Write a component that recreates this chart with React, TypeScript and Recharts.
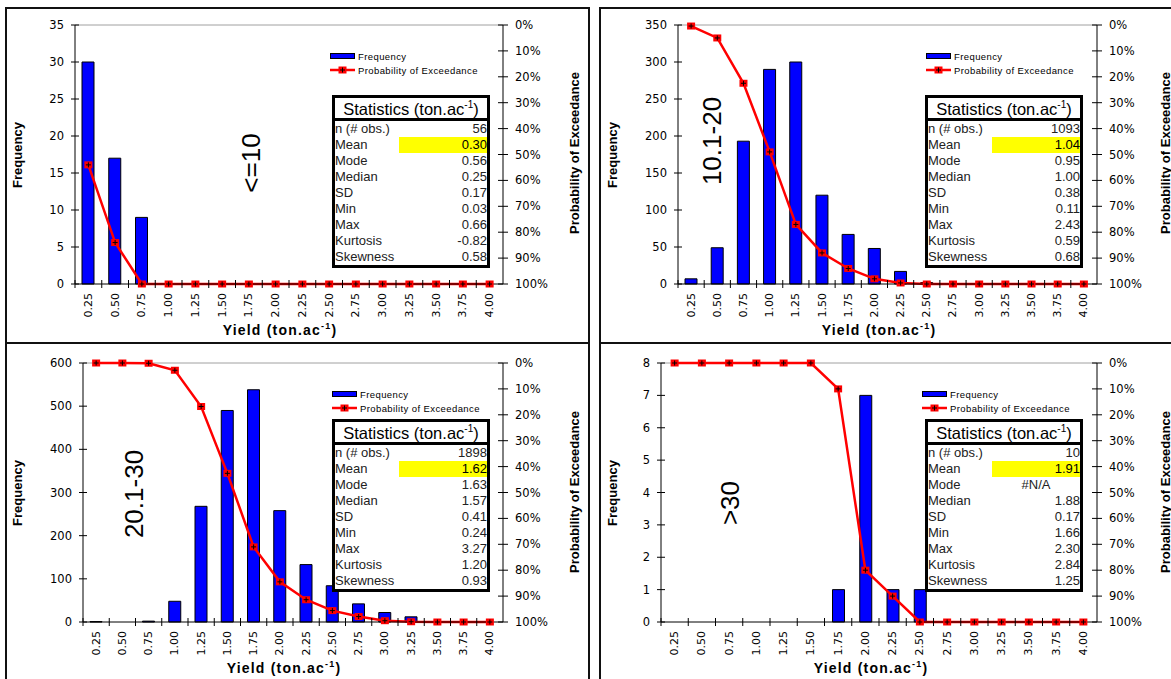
import React from 'react';
import { ComposedChart, Bar, Line, XAxis, YAxis, ReferenceLine } from 'recharts';

// yield classes on the x axis (ton.ac-1)
const yieldBins = ['0.25', '0.50', '0.75', '1.00', '1.25', '1.50', '1.75', '2.00', '2.25', '2.50', '2.75', '3.00', '3.25', '3.50', '3.75', '4.00'];

// frequency per yield class, one list per rainfall group
const freqLe10 = [30, 17, 9, 0, 0, 0, 0, 0, 0, 0, 0, 0, 0, 0, 0, 0];
const freq10to20 = [7, 49, 193, 290, 300, 120, 67, 48, 17, 2, 0, 0, 0, 0, 0, 0];
const freq20to30 = [1, 0, 2, 48, 268, 490, 538, 258, 133, 84, 42, 22, 12, 0, 0, 0];
const freqGt30 = [0, 0, 0, 0, 0, 0, 1, 7, 1, 1, 0, 0, 0, 0, 0, 0];

// probability of exceedance (%), drawn on the reversed right axis
const exceedLe10 = [54, 84, 100, 100, 100, 100, 100, 100, 100, 100, 100, 100, 100, 100, 100, 100];
const exceed10to20 = [0.4, 5, 22.5, 49, 77, 88, 94, 98, 99.6, 100, 100, 100, 100, 100, 100, 100];
const exceed20to30 = [0, 0, 0.1, 2.8, 16.8, 42.6, 71, 84.5, 91.4, 95.6, 97.9, 99.5, 99.9, 100, 100, 100];
const exceedGt30 = [0, 0, 0, 0, 0, 0, 10, 80, 90, 100, 100, 100, 100, 100, 100, 100];

const freqTicksLe10 = [0, 5, 10, 15, 20, 25, 30, 35];
const freqTicks10to20 = [0, 50, 100, 150, 200, 250, 300, 350];
const freqTicks20to30 = [0, 100, 200, 300, 400, 500, 600];
const freqTicksGt30 = [0, 1, 2, 3, 4, 5, 6, 7, 8];
const exceedTicks = [0, 10, 20, 30, 40, 50, 60, 70, 80, 90, 100];

const statLabels = ['n (# obs.)', 'Mean', 'Mode', 'Median', 'SD', 'Min', 'Max', 'Kurtosis', 'Skewness'];
const statsLe10 = ['56', '0.30', '0.56', '0.25', '0.17', '0.03', '0.66', '-0.82', '0.58'];
const stats10to20 = ['1093', '1.04', '0.95', '1.00', '0.38', '0.11', '2.43', '0.59', '0.68'];
const stats20to30 = ['1898', '1.62', '1.63', '1.57', '0.41', '0.24', '3.27', '1.20', '0.93'];
const statsGt30 = ['10', '1.91', '#N/A', '1.88', '0.17', '1.66', '2.30', '2.84', '1.25'];

const groupLabels = ['<=10', '10.1-20', '20.1-30', '>30'];

const SANS = '"Liberation Sans", Arial, sans-serif';
const TICK_FONT = '"DejaVu Sans", sans-serif';
const BLUE = '#0000FF';
const RED = '#FF0000';

interface Geo {
  x: number; y: number; w: number; h: number;
  pl: number; pr: number; pt: number; pb: number;
  frame: [number, number, number, number];
  freqTitle: [number, number];
  probTitle: [number, number];
  yieldTitle: [number, number];
  tag: [number, number];
  legend: [number, number];
  box: [number, number];
}

const SquareDot = (props: any) => {
  const { cx, cy } = props;
  if (cx == null || cy == null) return null;
  return (
    <g>
      <rect x={cx - 4} y={cy - 3.5} width={8} height={7} fill={RED} />
      <path d={`M${cx - 2.5},${cy}H${cx + 2.5}M${cx},${cy - 2.5}V${cy + 2.5}`} stroke="#000" strokeWidth={1} />
    </g>
  );
};

const BinTick = (props: any) => {
  const { x, y, payload, band } = props;
  const bx = x - band / 2;
  return (
    <g>
      <line x1={bx} x2={bx} y1={y - 4} y2={y + 4} stroke="#000" />
      <text
        x={x}
        y={y + 9}
        transform={`rotate(-90, ${x}, ${y + 9})`}
        textAnchor="end"
        dominantBaseline="central"
        fontSize={11}
        fontFamily={TICK_FONT}
        fill="#000"
      >
        {payload.value}
      </text>
    </g>
  );
};

const FreqTick = (props: any) => {
  const { x, y, payload } = props;
  return (
    <g>
      <line x1={x - 4} x2={x + 4} y1={y} y2={y} stroke="#000" />
      <text x={x - 11} y={y} textAnchor="end" dominantBaseline="central" fontSize={11.5} fontFamily={TICK_FONT} fill="#000">
        {payload.value}
      </text>
    </g>
  );
};

const ExceedTick = (props: any) => {
  const { x, y, payload } = props;
  return (
    <g>
      <line x1={x - 5} x2={x + 5} y1={y} y2={y} stroke="#000" />
      <text x={x + 12} y={y} textAnchor="start" dominantBaseline="central" fontSize={11.5} fontFamily={TICK_FONT} fill="#000">
        {payload.value}%
      </text>
    </g>
  );
};

function LegendBox({ left, top }: { left: number; top: number }) {
  const row: React.CSSProperties = { display: 'flex', alignItems: 'center', height: 14, whiteSpace: 'nowrap' };
  return (
    <div style={{ position: 'absolute', left, top, fontFamily: SANS, fontSize: 9.5, letterSpacing: 0.4, color: '#000' }}>
      <div style={row}>
        <svg width={28} height={10}>
          <rect x={0.5} y={2.5} width={24} height={5} fill={BLUE} stroke="#000" strokeWidth={1} />
        </svg>
        <span>Frequency</span>
      </div>
      <div style={row}>
        <svg width={28} height={10}>
          <line x1={0} x2={25} y1={5} y2={5} stroke={RED} strokeWidth={2.5} />
          <SquareDot cx={12.5} cy={5} />
        </svg>
        <span>Probability of Exceedance</span>
      </div>
    </div>
  );
}

function StatsBox({ left, top, values }: { left: number; top: number; values: string[] }) {
  return (
    <div
      style={{
        position: 'absolute', left, top, width: 158, height: 173, boxSizing: 'border-box',
        border: '3px solid #000', background: '#fff', fontFamily: SANS, color: '#000',
      }}
    >
      <div style={{ height: 20, lineHeight: '22px', textAlign: 'center', fontSize: 16.5, borderBottom: '3px solid #000', whiteSpace: 'nowrap' }}>
        Statistics (ton.ac<span style={{ fontSize: 10, verticalAlign: 'top', lineHeight: '14px' }}>-1</span>)
      </div>
      {statLabels.map((lab, i) => (
        <div key={lab} style={{ position: 'relative', height: 16, lineHeight: '16px', fontSize: 13 }}>
          <span style={{ position: 'absolute', left: 0, color: '#222' }}>{lab}</span>
          <span
            style={{
              position: 'absolute', left: 64, right: 0, top: 0, height: 16,
              textAlign: values[i] === '#N/A' ? 'center' : 'right',
              background: i === 1 ? '#FFFF00' : 'transparent',
              color: i === 1 ? '#000' : '#222',
            }}
          >
            {values[i]}
          </span>
        </div>
      ))}
    </div>
  );
}

function Panel({ g, freq, exceed, freqTicks, stats, tag }: {
  g: Geo; freq: number[]; exceed: number[]; freqTicks: number[]; stats: string[]; tag: string;
}) {
  const rows = yieldBins.map((bin, i) => ({ bin, freq: freq[i], exceed: exceed[i] }));
  const band = (g.pr - g.pl) / yieldBins.length;
  const fMax = freqTicks[freqTicks.length - 1];
  return (
    <div style={{ position: 'absolute', left: g.x, top: g.y, width: g.w, height: g.h }}>
      <div
        style={{
          position: 'absolute', left: g.frame[0], top: g.frame[1], width: g.frame[2], height: g.frame[3],
          border: '2px solid #111', boxSizing: 'border-box',
        }}
      />
      <div style={{ position: 'absolute', left: 0, top: 0 }}>
        <ComposedChart
          width={g.w}
          height={g.h}
          data={rows}
          margin={{ top: g.pt, right: g.w - g.pr - 60, bottom: 0, left: g.pl - 50 }}
        >
          <XAxis
            dataKey="bin"
            interval={0}
            height={g.h - g.pb}
            tickLine={false}
            tickSize={0}
            tickMargin={0}
            axisLine={{ stroke: '#000' }}
            tick={(p: any) => <BinTick {...p} band={band} />}
          />
          <YAxis
            yAxisId="f"
            width={50}
            domain={[0, fMax]}
            ticks={freqTicks}
            interval={0}
            tickLine={false}
            tickSize={0}
            tickMargin={0}
            axisLine={{ stroke: '#000' }}
            tick={(p: any) => <FreqTick {...p} />}
          />
          <YAxis
            yAxisId="p"
            orientation="right"
            width={60}
            domain={[0, 100]}
            reversed
            ticks={exceedTicks}
            interval={0}
            tickLine={false}
            tickSize={0}
            tickMargin={0}
            axisLine={{ stroke: '#000' }}
            tick={(p: any) => <ExceedTick {...p} />}
          />
          <ReferenceLine yAxisId="f" y={fMax} stroke="#A0A0A0" strokeWidth={1} />
          <Bar yAxisId="f" dataKey="freq" fill={BLUE} stroke="#000" strokeWidth={1} barSize={12} isAnimationActive={false} />
          <Line
            yAxisId="p"
            dataKey="exceed"
            type="linear"
            stroke={RED}
            strokeWidth={2.5}
            dot={<SquareDot />}
            activeDot={false}
            isAnimationActive={false}
          />
        </ComposedChart>
      </div>
      <svg width={g.w} height={g.h} style={{ position: 'absolute', left: 0, top: 0, pointerEvents: 'none' }} fontFamily={SANS}>
        <text
          x={g.freqTitle[0]} y={g.freqTitle[1]} transform={`rotate(-90, ${g.freqTitle[0]}, ${g.freqTitle[1]})`}
          textAnchor="middle" dominantBaseline="central" fontSize={13} fontWeight="bold"
        >
          Frequency
        </text>
        <text
          x={g.probTitle[0]} y={g.probTitle[1]} transform={`rotate(-90, ${g.probTitle[0]}, ${g.probTitle[1]})`}
          textAnchor="middle" dominantBaseline="central" fontSize={13} fontWeight="bold"
        >
          Probability of Exceedance
        </text>
        <text x={g.yieldTitle[0]} y={g.yieldTitle[1] + 5} textAnchor="middle" fontSize={14} fontWeight="bold" letterSpacing={1.2}>
          Yield (ton.ac<tspan dy={-6} fontSize={9}>-1</tspan><tspan dy={6}>)</tspan>
        </text>
        <text
          x={g.tag[0]} y={g.tag[1]} transform={`rotate(-90, ${g.tag[0]}, ${g.tag[1]})`}
          textAnchor="middle" dominantBaseline="central" fontSize={26}
        >
          {tag}
        </text>
      </svg>
      <LegendBox left={g.legend[0]} top={g.legend[1]} />
      <StatsBox left={g.box[0]} top={g.box[1]} values={stats} />
    </div>
  );
}

const geoTL: Geo = {
  x: 0, y: 0, w: 590, h: 340, pl: 75, pr: 503, pt: 25, pb: 284,
  frame: [5, 7, 585, 337], freqTitle: [17, 155], probTitle: [574, 153], yieldTitle: [280, 330],
  tag: [251, 163], legend: [330, 49], box: [332, 95],
};
const geoTR: Geo = {
  x: 590, y: 0, w: 581, h: 340, pl: 88, pr: 507, pt: 25, pb: 284,
  frame: [9, 7, 620, 337], freqTitle: [22, 155], probTitle: [575, 153], yieldTitle: [289, 330],
  tag: [122, 141], legend: [336, 49], box: [335, 95],
};
const geoBL: Geo = {
  x: 0, y: 340, w: 590, h: 339, pl: 83, pr: 503, pt: 23, pb: 282,
  frame: [5, 2, 585, 400], freqTitle: [17, 153], probTitle: [574, 152], yieldTitle: [284, 328],
  tag: [134, 154], legend: [332, 47], box: [332, 79],
};
const geoBR: Geo = {
  x: 590, y: 340, w: 581, h: 339, pl: 71, pr: 507, pt: 23, pb: 282,
  frame: [9, 2, 620, 400], freqTitle: [22, 153], probTitle: [575, 152], yieldTitle: [281, 328],
  tag: [140, 163], legend: [332, 47], box: [335, 79],
};

export default function App() {
  return (
    <div style={{ position: 'absolute', left: 0, top: 0, width: 1171, height: 679, overflow: 'hidden', background: '#fff' }}>
      <Panel g={geoTL} freq={freqLe10} exceed={exceedLe10} freqTicks={freqTicksLe10} stats={statsLe10} tag={groupLabels[0]} />
      <Panel g={geoTR} freq={freq10to20} exceed={exceed10to20} freqTicks={freqTicks10to20} stats={stats10to20} tag={groupLabels[1]} />
      <Panel g={geoBL} freq={freq20to30} exceed={exceed20to30} freqTicks={freqTicks20to30} stats={stats20to30} tag={groupLabels[2]} />
      <Panel g={geoBR} freq={freqGt30} exceed={exceedGt30} freqTicks={freqTicksGt30} stats={statsGt30} tag={groupLabels[3]} />
    </div>
  );
}
